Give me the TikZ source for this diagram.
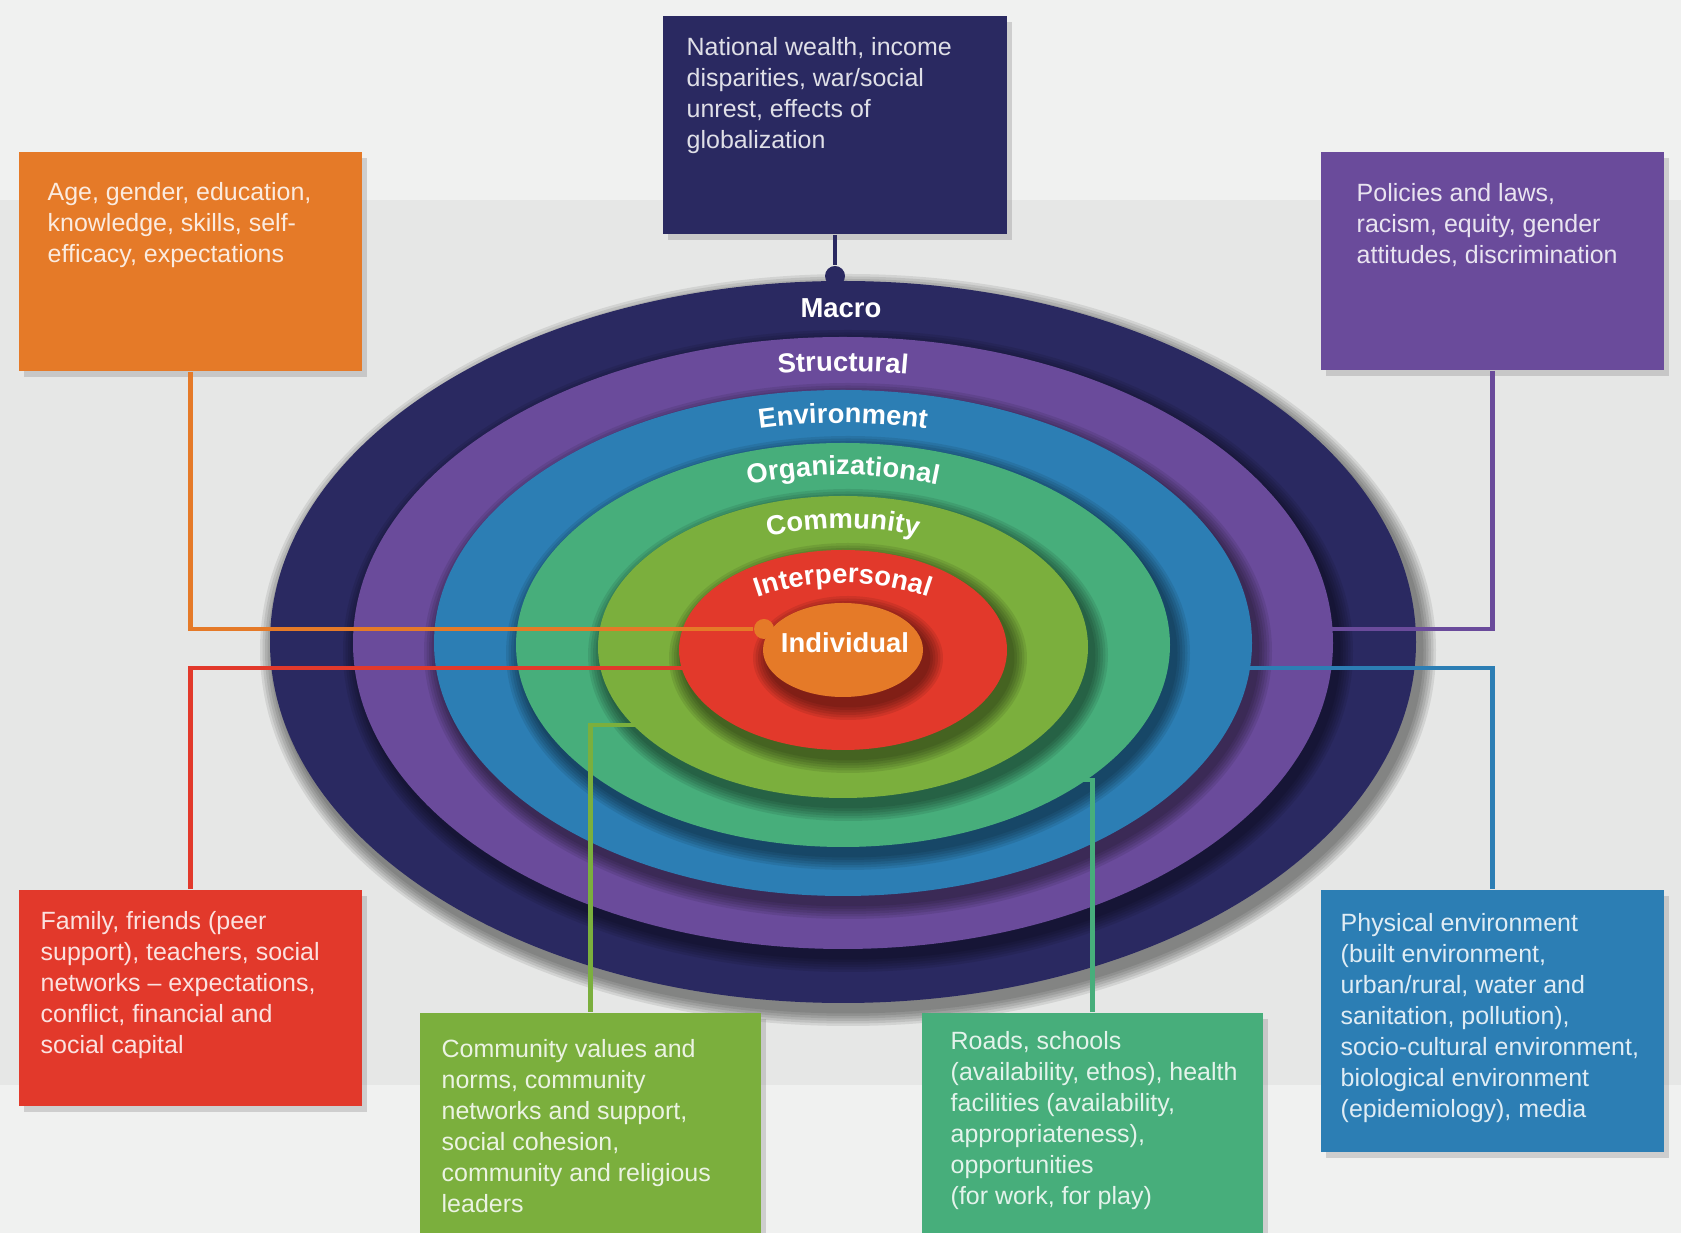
\documentclass[tikz,border=0pt]{standalone}
\usepackage{fontspec}
\setmainfont{Liberation Sans}
\usetikzlibrary{shadows,decorations.text}

\definecolor{bgtop}{HTML}{F0F1F0}
\definecolor{bgband}{HTML}{E6E7E6}
\definecolor{macroc}{HTML}{2A2961}
\definecolor{structc}{HTML}{6A4B9B}
\definecolor{envc}{HTML}{2C7EB4}
\definecolor{orgc}{HTML}{47AE7B}
\definecolor{commc}{HTML}{7BAF3D}
\definecolor{interc}{HTML}{E2392B}
\definecolor{indivc}{HTML}{E57A28}

\newcommand{\ringfont}{\fontsize{7.8}{9}\selectfont\bfseries}
% soft shadow under one ring: centre x, centre y, x radius, y radius
\newcommand{\ringshadow}[4]{%
  \foreach \k in {1,...,6}{%
    \pgfmathsetmacro\shrx{#3+2.5*\k}
    \pgfmathsetmacro\shry{#4+2.5*\k}
    \fill[black, opacity=0.085] (#1+5,#2-8) ellipse [x radius=\shrx, y radius=\shry];
  }}

\tikzset{
  box/.style={inner sep=0, minimum width=3.43cm,
    drop shadow={shadow xshift=0.05cm, shadow yshift=-0.06cm, opacity=0.3}},
  boxtext/.style={anchor=north west, align=left, inner sep=0,
    font=\fontsize{7.1}{8.8}\selectfont},
  dot/.style={circle, inner sep=0, minimum size=0.2cm},
  link/.style={line width=1.2pt},
  ringlabel/.style={text=white, font=\ringfont},
  arclabel/.style={decorate, decoration={text along path, text align=center,
    text color=white, text={|\ringfont|#1}}}
}

\begin{document}
\begin{tikzpicture}[x=0.01cm, y=0.01cm]
  \useasboundingbox (0,0) rectangle (1681,1233);

  %% background
  \fill[bgtop] (0,0) rectangle (1681,1233);
  \fill[bgband] (0,148) rectangle (1681,1033);

  %% rings, outside in
  \ringshadow{843}{591}{573}{361}
  \fill[macroc] (843,591) ellipse [x radius=573, y radius=361];
  \ringshadow{843}{590}{490}{306}
  \fill[structc] (843,590) ellipse [x radius=490, y radius=306];
  \ringshadow{843}{590}{409}{253}
  \fill[envc] (843,590) ellipse [x radius=409, y radius=253];
  \ringshadow{843}{588}{327}{202}
  \fill[orgc] (843,588) ellipse [x radius=327, y radius=202];
  \ringshadow{843}{586}{245}{151}
  \fill[commc] (843,586) ellipse [x radius=245, y radius=151];
  \ringshadow{843}{583}{164}{100}
  \fill[interc] (843,583) ellipse [x radius=164, y radius=100];
  \ringshadow{843}{583}{80}{47}
  \fill[indivc] (843,583) ellipse [x radius=80, y radius=47];

  %% ring labels
  \node[ringlabel] (macrolbl) at (841,925) {Macro};
  \path[arclabel=Structural] (843,162) ++(99:700) arc[start angle=99, end angle=81, radius=700];
  \path[arclabel=Environment] (843,210) ++(102:600) arc[start angle=102, end angle=78, radius=600];
  \path[arclabel=Organizational] (843,298) ++(108:460) arc[start angle=108, end angle=72, radius=460];
  \path[arclabel=Community] (843,375) ++(110:330) arc[start angle=110, end angle=70, radius=330];
  \path[arclabel=Interpersonal] (843,390) ++(120:260) arc[start angle=120, end angle=60, radius=260];
  \node[ringlabel] (indivlbl) at (845,590) {Individual};

  %% boxes
  \node[box, fill=macroc, minimum height=2.18cm] (nation) at (835,1108) {};
  \node[box, fill=indivc, minimum height=2.19cm] (age) at (190.5,971.5) {};
  \node[box, fill=structc, minimum height=2.18cm] (policy) at (1492.5,972) {};
  \node[box, fill=interc, minimum height=2.16cm] (family) at (190.5,235) {};
  \node[box, fill=commc, minimum width=3.41cm, minimum height=2.20cm] (commun) at (590.5,110) {};
  \node[box, fill=orgc, minimum width=3.41cm, minimum height=2.20cm] (roads) at (1092.5,110) {};
  \node[box, fill=envc, minimum height=2.62cm] (phys) at (1492.5,212) {};

  \node[boxtext, text=white!85!macroc] (nationtxt) at (686,1196)
    {National wealth, income\\disparities, war/social\\unrest, effects of\\globalization};
  \node[boxtext, text=white!85!indivc] (agetxt) at (47,1051)
    {Age, gender, education,\\knowledge, skills, self-\\efficacy, expectations};
  \node[boxtext, text=white!85!structc] (policytxt) at (1356,1050)
    {Policies and laws,\\racism, equity, gender\\attitudes, discrimination};
  \node[boxtext, text=white!85!interc] (familytxt) at (40,322)
    {Family, friends (peer\\support), teachers, social\\networks – expectations,\\conflict, financial and\\social capital};
  \node[boxtext, text=white!85!commc] (communtxt) at (441,194)
    {Community values and\\norms, community\\networks and support,\\social cohesion,\\community and religious\\leaders};
  \node[boxtext, text=white!85!orgc] (roadstxt) at (950,202)
    {Roads, schools\\(availability, ethos), health\\facilities (availability,\\appropriateness),\\opportunities\\(for work, for play)};
  \node[boxtext, text=white!85!envc] (phystxt) at (1340,320)
    {Physical environment\\(built environment,\\urban/rural, water and\\sanitation, pollution),\\socio-cultural environment,\\biological environment\\(epidemiology), media};

  %% dots
  \node[dot, fill=macroc] (dmacro) at (835,957) {};
  \node[dot, fill=structc] (dstruct) at (1292,604) {};
  \node[dot, fill=envc] (denv) at (1201,565) {};
  \node[dot, fill=orgc] (dorg) at (1045,453) {};
  \node[dot, fill=commc] (dcomm) at (678,508) {};
  \node[dot, fill=interc] (dinter) at (713,565) {};
  \node[dot, fill=indivc] (dindiv) at (764,604) {};

  %% links
  \draw[link, macroc] (nation.south) -- (dmacro);
  \draw[link, indivc] (age.south) |- (dindiv);
  \draw[link, structc] (policy.south) |- (dstruct);
  \draw[link, interc] (family.north) |- (dinter);
  \draw[link, commc] (commun.north) |- (dcomm);
  \draw[link, orgc] (roads.north) |- (dorg);
  \draw[link, envc] (phys.north) |- (denv);

\end{tikzpicture}
\end{document}
